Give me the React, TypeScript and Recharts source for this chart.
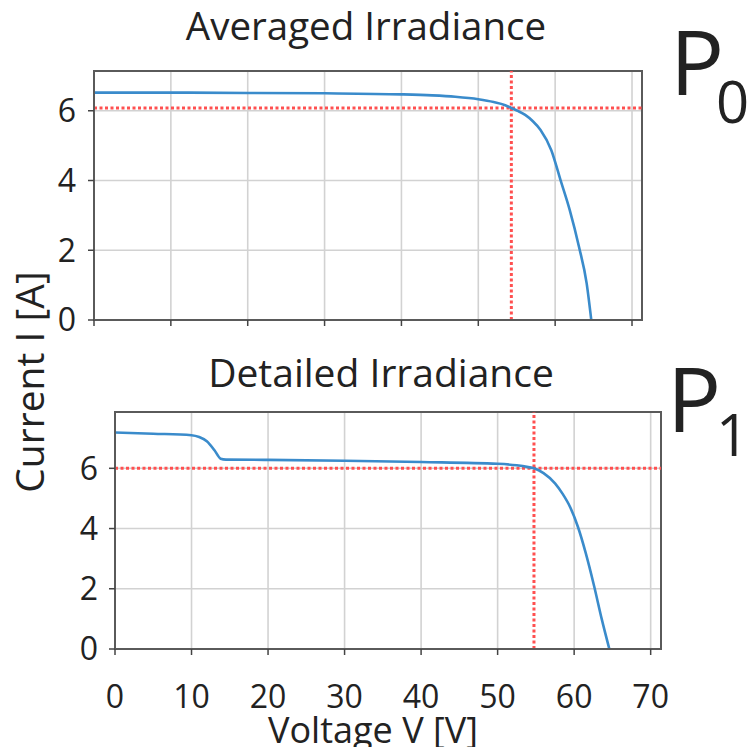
import { LineChart, Line, XAxis, YAxis, CartesianGrid, ReferenceLine, ReferenceArea } from "recharts"

// voltage ticks shared by both panels
const voltTicks = [0, 10, 20, 30, 40, 50, 60, 70]
const currentTicks = [0, 2, 4, 6]

// P0 – averaged irradiance I-V curve
const avgVoltage = [0, 10, 20, 30, 40, 44, 47, 50, 52, 53.5, 54.3, 55.2, 56.1, 57.1, 58.1, 59.5, 60.7, 61.9, 63.1, 64.1, 64.7]
const avgCurrent = [6.52, 6.52, 6.51, 6.5, 6.47, 6.44, 6.4, 6.33, 6.25, 6.16, 6.08, 5.99, 5.88, 5.7, 5.45, 4.87, 4.01, 3.15, 2.1, 1.05, 0]
const avgMpp = { v: 54.3, i: 6.08 }

// P1 – detailed irradiance I-V curve (partial shading step near 12 V)
const detVoltage = [0, 5, 10, 11, 12, 13, 13.8, 14.5, 20, 30, 40, 50, 52.5, 54, 54.75, 56, 57.5, 58.5, 59.5, 60.5, 61.5, 62.6, 63.6, 64.6]
const detCurrent = [7.19, 7.15, 7.1, 7.04, 6.9, 6.6, 6.32, 6.29, 6.28, 6.25, 6.21, 6.15, 6.1, 6.04, 6.0, 5.84, 5.5, 5.15, 4.7, 4.05, 3.2, 2.1, 1.0, 0]
const detMpp = { v: 54.75, i: 6.0 }

const FONT = "'Open Sans'"
const TEXT = "#222"
const BLUE = "#3a8bcb"
const RED = "#ff5050"
const GRID = "#d2d2d2"
const FRAME = "#5a5a5a"

interface PanelProps {
  volts: number[]
  amps: number[]
  mpp: { v: number; i: number }
  xMax: number
  yMax: number
  width: number
  height: number
  margin: { top: number; right: number; left: number; bottom: number }
  yAxisWidth: number
  xAxisHeight: number
  yTickMargin: number
  showXLabels: boolean
}

function Panel(p: PanelProps) {
  const data = p.volts.map((v, k) => ({ v, i: p.amps[k] }))
  const tickStyle = { fontSize: 32, fill: TEXT, fontFamily: FONT }
  return (
    <LineChart width={p.width} height={p.height} data={data} margin={p.margin}>
      <CartesianGrid stroke={GRID} strokeWidth={1.6} />
      <XAxis
        dataKey="v"
        type="number"
        domain={[0, p.xMax]}
        ticks={voltTicks}
        allowDataOverflow
        height={p.xAxisHeight}
        tickSize={6}
        tickMargin={30}
        tickLine={{ stroke: "#444", strokeWidth: 1.5 }}
        axisLine={{ stroke: FRAME, strokeWidth: 2 }}
        tick={tickStyle}
        tickFormatter={p.showXLabels ? (v: number) => String(v) : () => ""}
      />
      <YAxis
        type="number"
        domain={[0, p.yMax]}
        ticks={currentTicks}
        allowDataOverflow
        width={p.yAxisWidth}
        tickSize={6}
        tickMargin={p.yTickMargin}
        tickLine={{ stroke: "#444", strokeWidth: 1.5 }}
        axisLine={{ stroke: FRAME, strokeWidth: 2 }}
        tick={tickStyle}
      />
      <ReferenceArea x1={0} x2={p.xMax} y1={0} y2={p.yMax} fill="none" stroke={FRAME} strokeWidth={2} />
      <ReferenceLine x={p.mpp.v} stroke={RED} strokeWidth={3} strokeDasharray="3 2.5" />
      <ReferenceLine y={p.mpp.i} stroke={RED} strokeWidth={3} strokeDasharray="3 2.5" />
      <Line
        type="monotone"
        dataKey="i"
        stroke={BLUE}
        strokeWidth={2.6}
        dot={false}
        isAnimationActive={false}
      />
    </LineChart>
  )
}

export default function App() {
  return (
    <div style={{ position: "absolute", left: 0, top: 0, width: 750, height: 747, background: "#fff", overflow: "hidden" }}>
      <div style={{ position: "absolute", left: 0, top: 0 }}>
        <Panel
          volts={avgVoltage}
          amps={avgCurrent}
          mpp={avgMpp}
          xMax={71.3}
          yMax={7.14}
          width={750}
          height={340}
          margin={{ top: 71, right: 108, left: 0, bottom: 0 }}
          yAxisWidth={94}
          xAxisHeight={20}
          yTickMargin={12}
          showXLabels={false}
        />
      </div>
      <div style={{ position: "absolute", left: 0, top: 380 }}>
        <Panel
          volts={detVoltage}
          amps={detCurrent}
          mpp={detMpp}
          xMax={71.35}
          yMax={7.87}
          width={750}
          height={367}
          margin={{ top: 32, right: 89, left: 0, bottom: 0 }}
          yAxisWidth={115}
          xAxisHeight={98}
          yTickMargin={11}
          showXLabels={true}
        />
      </div>
      <svg
        width={750}
        height={747}
        style={{ position: "absolute", left: 0, top: 0, pointerEvents: "none" }}
        fontFamily={FONT}
        fill={TEXT}
      >
        <text x={366} y={40} fontSize={38.5} textAnchor="middle">Averaged Irradiance</text>
        <text x={381} y={387} fontSize={39} textAnchor="middle">Detailed Irradiance</text>
        <text x={373} y={743} fontSize={36} textAnchor="middle">Voltage V [V]</text>
        <text x={0} y={0} fontSize={39} textAnchor="middle" transform="translate(44,382) rotate(-90)">
          Current I [A]
        </text>
        <text x={670} y={95} fontSize={90}>P</text>
        <text x={716} y={123} fontSize={58}>0</text>
        <text x={667} y={432} fontSize={90}>P</text>
        <text x={716} y={456} fontSize={58}>1</text>
      </svg>
    </div>
  )
}
